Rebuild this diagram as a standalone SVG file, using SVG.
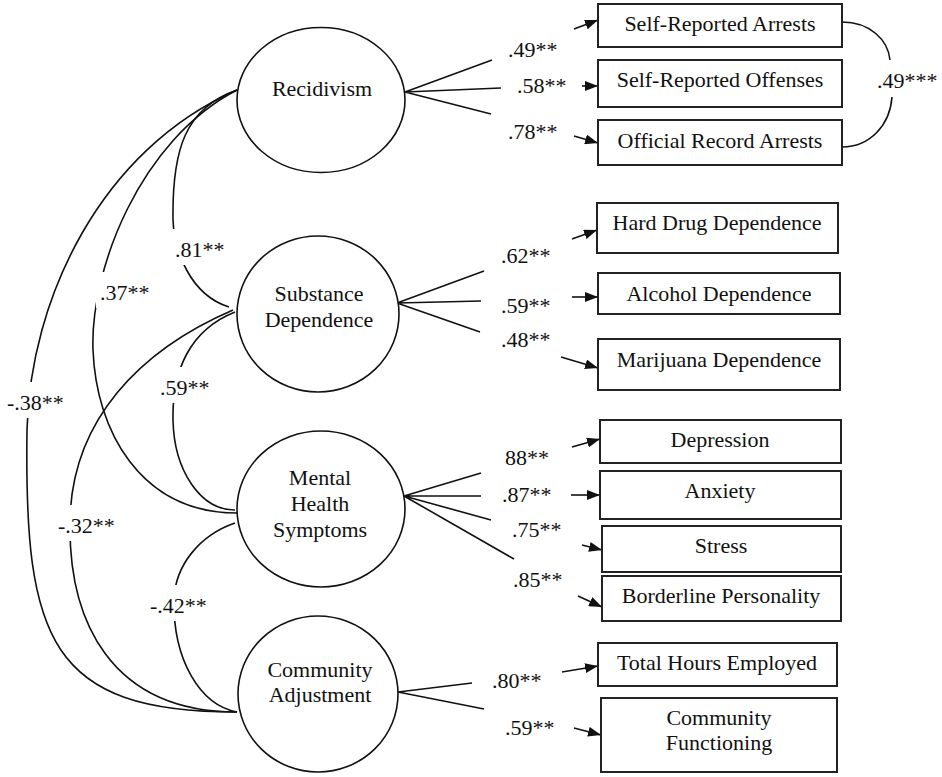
<svg xmlns="http://www.w3.org/2000/svg" width="942" height="777" viewBox="0 0 942 777">
<style>
text{font-family:"Liberation Serif","Times New Roman",serif;font-size:22px;fill:#111}
.c{text-anchor:middle}
.lat{fill:#fff;stroke:#111;stroke-width:1.6}
.box{fill:#fff;stroke:#222;stroke-width:2}
.ln{fill:none;stroke:#111;stroke-width:1.6}
.ar{fill:none;stroke:#111;stroke-width:1.6;marker-end:url(#ah)}
.bg{fill:#fff;stroke:none}
</style>
<defs>
<marker id="ah" markerUnits="userSpaceOnUse" markerWidth="13" markerHeight="10" refX="13" refY="5" orient="auto">
<path d="M0,0 L13,5 L0,10 z" fill="#111"/>
</marker>
</defs>
<rect width="942" height="777" fill="#fff"/>

<g id="connectors">
<path class="ln" d="M237,90 C185,108 172,150 173,220 C174,250 190,295 229,307"/>
<path class="ln" d="M237,90 C140,140 90,270 93,350 C96,430 140,513 237,513"/>
<path class="ln" d="M237,90 C100,150 30,300 27,430 C24,640 50,712 237,712"/>
<path class="ln" d="M233,310 C140,350 72,420 70,520 C68,620 110,712 237,712"/>
<path class="ln" d="M235,312 C190,330 172,370 173,420 C174,470 200,510 235,510"/>
<path class="ln" d="M235,523 C200,535 175,565 174,600 C173,660 200,705 237,712"/>
<path class="ln" d="M842,22 C870,22 888,40 890,60"/>
<path class="ln" d="M892,97 C890,125 870,147 842,147"/>
<path class="ln" d="M405,92 L492,60 M405,92 L501,88 M405,92 L491,114"/>
<path class="ln" d="M397,303 L484,271 M397,303 L481,301 M397,303 L480,332"/>
<path class="ln" d="M404,496 L481,473 M404,496 L481,496 M404,496 L491,520 M404,496 L514,559"/>
<path class="ln" d="M398,692 L472,683 M398,692 L484,709"/>
<line class="ar" x1="574" y1="29" x2="598" y2="20"/>
<line class="ar" x1="582" y1="86" x2="598" y2="86"/>
<line class="ar" x1="574" y1="136" x2="598" y2="143"/>
<line class="ar" x1="572" y1="239" x2="597" y2="230"/>
<line class="ar" x1="572" y1="297" x2="598" y2="297"/>
<line class="ar" x1="561" y1="357" x2="598" y2="368"/>
<line class="ar" x1="572" y1="447" x2="600" y2="439"/>
<line class="ar" x1="571" y1="495" x2="600" y2="495"/>
<line class="ar" x1="582" y1="545" x2="602" y2="550"/>
<line class="ar" x1="578" y1="596" x2="602" y2="607"/>
<line class="ar" x1="562" y1="672" x2="598" y2="666"/>
<line class="ar" x1="574" y1="728" x2="601" y2="735"/>
</g>

<g id="labels">
<rect class="bg" x="172" y="229" width="54" height="36"/>
<text x="175" y="257">.81**</text>
<rect class="bg" x="96" y="272" width="56" height="36"/>
<text x="100" y="300">.37**</text>
<rect class="bg" x="4" y="382" width="66" height="36"/>
<text x="7" y="410">-.38**</text>
<rect class="bg" x="156" y="367" width="56" height="36"/>
<text x="160" y="395">.59**</text>
<rect class="bg" x="54" y="505" width="63" height="36"/>
<text x="58" y="533">-.32**</text>
<rect class="bg" x="146" y="585" width="63" height="36"/>
<text x="150" y="613">-.42**</text>
<text x="508" y="57">.49**</text>
<text x="517" y="93">.58**</text>
<text x="508" y="139">.78**</text>
<text x="501" y="263">.62**</text>
<text x="501" y="313">.59**</text>
<text x="501" y="347">.48**</text>
<text x="505" y="465">88**</text>
<text x="502" y="502">.87**</text>
<text x="512" y="537">.75**</text>
<text x="513" y="587">.85**</text>
<text x="492" y="688">.80**</text>
<text x="505" y="735">.59**</text>
<text x="877" y="88">.49***</text>
</g>

<g id="recidivism">
<ellipse class="lat" cx="321" cy="100" rx="84" ry="72.5"/>
<text class="c" x="322" y="96">Recidivism</text>
</g>
<g id="substance">
<ellipse class="lat" cx="318" cy="314" rx="81" ry="78"/>
<text class="c" x="319" y="301">Substance</text>
<text class="c" x="319" y="327">Dependence</text>
</g>
<g id="mental">
<ellipse class="lat" cx="321" cy="509" rx="84" ry="78"/>
<text class="c" x="320" y="485">Mental</text>
<text class="c" x="320" y="511">Health</text>
<text class="c" x="320" y="537">Symptoms</text>
</g>
<g id="community">
<ellipse class="lat" cx="318" cy="694" rx="80" ry="78"/>
<text class="c" x="320" y="677">Community</text>
<text class="c" x="320" y="702">Adjustment</text>
</g>

<g id="sra"><rect class="box" x="598" y="4" width="244" height="43"/><text class="c" x="720" y="31">Self-Reported Arrests</text></g>
<g id="sro"><rect class="box" x="598" y="60" width="244" height="47"/><text class="c" x="720" y="87">Self-Reported Offenses</text></g>
<g id="ora"><rect class="box" x="598" y="120" width="244" height="45"/><text class="c" x="720" y="148">Official Record Arrests</text></g>
<g id="hdd"><rect class="box" x="597" y="203" width="241" height="50"/><text class="c" x="717" y="230">Hard Drug Dependence</text></g>
<g id="ad"><rect class="box" x="598" y="273" width="242" height="41"/><text class="c" x="719" y="301">Alcohol Dependence</text></g>
<g id="md"><rect class="box" x="598" y="339" width="242" height="51"/><text class="c" x="719" y="367">Marijuana Dependence</text></g>
<g id="dep"><rect class="box" x="600" y="420" width="241" height="43"/><text class="c" x="720" y="447">Depression</text></g>
<g id="anx"><rect class="box" x="600" y="471" width="241" height="48"/><text class="c" x="720" y="498">Anxiety</text></g>
<g id="str"><rect class="box" x="602" y="526" width="239" height="46"/><text class="c" x="721" y="553">Stress</text></g>
<g id="bpd"><rect class="box" x="602" y="576" width="239" height="45"/><text class="c" x="721" y="603">Borderline Personality</text></g>
<g id="the"><rect class="box" x="598" y="643" width="239" height="43"/><text class="c" x="717" y="670">Total Hours Employed</text></g>
<g id="cf"><rect class="box" x="601" y="698" width="236" height="74"/><text class="c" x="719" y="725">Community</text><text class="c" x="719" y="750">Functioning</text></g>
</svg>
